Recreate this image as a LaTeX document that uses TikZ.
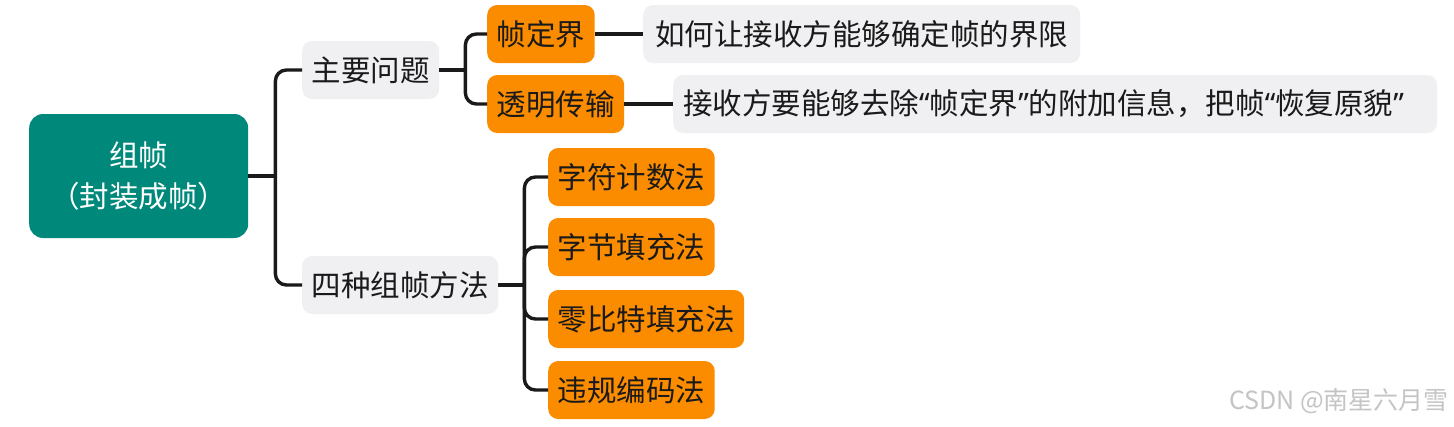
\documentclass[tikz,border=0pt]{standalone}
\usepackage{fontspec}
\usetikzlibrary{calc}
\setmainfont{Noto Sans CJK SC}
\newfontfamily\latinq{Noto Sans}
\newcommand{\myLQ}{{\latinq “}}
\newcommand{\myRQ}{{\latinq ”}}
\definecolor{teal1}{HTML}{00897B}
\definecolor{orange1}{HTML}{FB8C00}
\definecolor{gray1}{HTML}{F0EFF2}
\definecolor{ink}{HTML}{1A1A1A}
\definecolor{wm}{HTML}{C4C4C4}
\begin{document}
\begin{tikzpicture}[x=1pt,y=-1pt,
  base/.style={rounded corners=10pt, minimum height=58pt, inner xsep=9.5pt, inner ysep=0pt, anchor=west, font=\fontsize{29.5pt}{34pt}\selectfont, text=ink},
  graybox/.style={base, fill=gray1},
  orangebox/.style={base, fill=orange1},
  conn/.style={draw=ink, line width=3.4pt, rounded corners=11pt}
]
\useasboundingbox (0,0) rectangle (1454,426);
\fill[white] (0,0) rectangle (1454,426);

\node[rounded corners=14pt, fill=teal1, minimum width=219pt, minimum height=124pt, inner sep=0pt, anchor=west, text=white, align=center, font=\fontsize{29.5pt}{41pt}\selectfont] (root) at (29,176) {组帧\\（封装成帧）};

\node[graybox] (p1) at (302,70) {主要问题};
\node[graybox] (p2) at (302,285) {四种组帧方法};

\node[orangebox] (a1) at (487,34) {帧定界};
\node[orangebox] (a2) at (487,104) {透明传输};

\node[graybox, inner xsep=12pt] (d1) at (643,34) {如何让接收方能够确定帧的界限};
\node[graybox, inner xsep=10pt, text width=744pt, align=left] (d2) at (673,104) {接收方要能够去除\myLQ 帧定界\myRQ 的附加信息，把帧\myLQ 恢复原貌\myRQ};

\node[orangebox] (m1) at (548,177) {字符计数法};
\node[orangebox] (m2) at (548,247) {字节填充法};
\node[orangebox] (m3) at (548,319) {零比特填充法};
\node[orangebox] (m4) at (548,390) {违规编码法};

% root connectors
\coordinate (j0) at ($(root.east)+(27,0)$);
\draw[conn] (root.east) -- (j0);
\draw[conn] (p1.west) -| (j0);
\draw[conn] (p2.west) -| (j0);

% p1 connectors
\coordinate (j1) at ($(p1.east)+(26,0)$);
\draw[conn] (p1.east) -- (j1);
\draw[conn] (a1.west) -| (j1);
\draw[conn] (a2.west) -| (j1);

% p2 connectors
\coordinate (j2) at ($(p2.east)+(26,0)$);
\draw[conn] (p2.east) -- (j2);
\draw[conn] (m1.west) -| (j2);
\draw[conn] (m2.west) -| (j2);
\draw[conn] (m3.west) -| (j2);
\draw[conn] (m4.west) -| (j2);

% detail connectors
\draw[conn] (a1.east) -- (d1.west);
\draw[conn] (a2.east) -- (d2.west);

\node[anchor=east, text=wm, font=\fontsize{25pt}{28pt}\selectfont, inner sep=0pt] (wmk) at (1449,401) {CSDN @南星六月雪};
\end{tikzpicture}
\end{document}
